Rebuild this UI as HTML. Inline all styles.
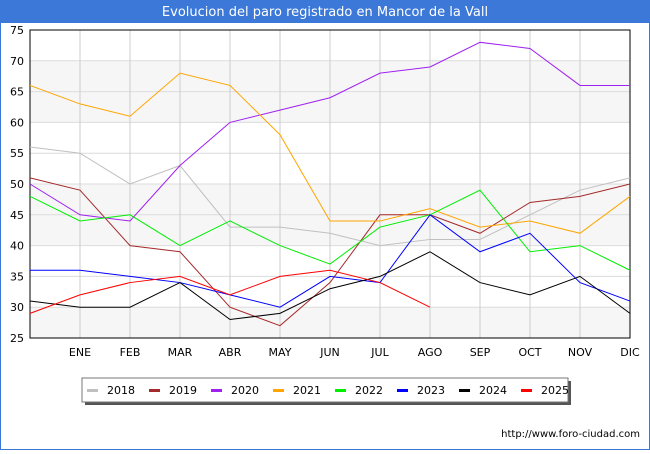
<!DOCTYPE html>
<html><head><meta charset="utf-8"><style>
body{margin:0;width:650px;height:450px;overflow:hidden;background:#fff;font-family:"DejaVu Sans","Liberation Sans",sans-serif;}
#wrap{position:relative;width:650px;height:450px;}
</style></head><body><div id="wrap">
<svg id="c" width="650" height="450" xmlns="http://www.w3.org/2000/svg"></svg>
</div>
<script>
const months=["","ENE","FEB","MAR","ABR","MAY","JUN","JUL","AGO","SEP","OCT","NOV","DIC"];
const yTicks=[25,30,35,40,45,50,55,60,65,70,75];
const years=["2018","2019","2020","2021","2022","2023","2024","2025"];
const colors=["#c0c0c0","#a52a2a","#a020f0","#ffa500","#00ee00","#0000ff","#000000","#ff0000"];
const s2018=[56,55,50,53,43,43,42,40,41,41,45,49,51];
const s2019=[51,49,40,39,30,27,34,45,45,42,47,48,50];
const s2020=[50,45,44,53,60,62,64,68,69,73,72,66,66];
const s2021=[66,63,61,68,66,58,44,44,46,43,44,42,48];
const s2022=[48,44,45,40,44,40,37,43,45,49,39,40,36];
const s2023=[36,36,35,34,32,30,35,34,45,39,42,34,31];
const s2024=[31,30,30,34,28,29,33,35,39,34,32,35,29];
const s2025=[29,32,34,35,32,35,36,34,30];
const series=[s2018,s2019,s2020,s2021,s2022,s2023,s2024,s2025];
const L=30,R=630,T=30,B=338,yMin=25,yMax=75;
const X=i=>L+i*(R-L)/12;
const Y=v=>B-(v-yMin)*(B-T)/(yMax-yMin);
const svg=document.getElementById('c');
const NS="http://www.w3.org/2000/svg";
function mk(t,a,p){const e=document.createElementNS(NS,t);for(const k in a)e.setAttribute(k,a[k]);(p||svg).appendChild(e);return e;}
// title
let e=mk('rect',{x:0,y:0,width:650,height:22,fill:'#3b78d8'});


e=mk('text',{x:325,y:16,'text-anchor':'middle','font-size':13,fill:'#fff'});e.textContent='Evolucion del paro registrado en Mancor de la Vall';


mk('rect',{x:0,y:22,width:650,height:428,fill:'none',stroke:'#3b78d8','stroke-width':2});
// bands
[[60,70],[40,50],[25,30]].forEach(b=>{const r=mk('rect',{x:L,y:Y(b[1]),width:R-L,height:Y(b[0])-Y(b[1]),fill:'#f6f6f6'});

});
// grid
yTicks.forEach(v=>{const l=mk('line',{x1:L,x2:R,y1:Y(v),y2:Y(v),stroke:'#dcdcdc'});


const t=mk('text',{x:L-6,y:Y(v)+4,'text-anchor':'end','font-size':11,fill:'#000'});t.textContent=v;

});
months.forEach((m,i)=>{if(i>0){const l=mk('line',{x1:X(i),x2:X(i),y1:T,y2:B,stroke:'#cccccc'});

}
if(m){const t=mk('text',{x:X(i),y:B+18,'text-anchor':'middle','font-size':11,fill:'#000'});t.textContent=m;

}});
e=mk('rect',{x:L,y:T,width:R-L,height:B-T,fill:'none',stroke:'#000'});


// series
series.forEach((s,k)=>{const p=mk('polyline',{points:s.map((v,i)=>X(i)+','+Y(v)).join(' '),fill:'none',stroke:colors[k],'stroke-width':1});

});
// legend
mk('rect',{x:85,y:381,width:486,height:24,fill:'#555'});
e=mk('rect',{x:82,y:378,width:486,height:24,fill:'#fff',stroke:'#777'});


years.forEach((y,k)=>{const g=mk('g',{});


mk('rect',{x:87+k*62,y:389,width:11,height:3,fill:colors[k]},g);
const t=mk('text',{x:107+k*62,y:394,'font-size':11,fill:'#000'},g);t.textContent=y;});
e=mk('text',{x:640,y:437,'text-anchor':'end','font-size':10,fill:'#000'});e.textContent='http://www.foro-ciudad.com';


</script></body></html>
